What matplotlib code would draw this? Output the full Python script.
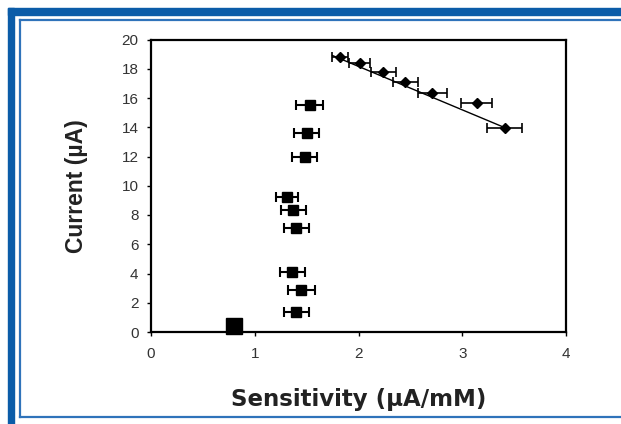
import numpy as np
import matplotlib
matplotlib.use("Agg")
import matplotlib.pyplot as plt
from matplotlib.patches import Rectangle
from matplotlib.lines import Line2D

# data
low_sens = [1.53, 1.50, 1.48, 1.31, 1.37, 1.40, 1.36, 1.45, 1.40]
low_curr = [15.5, 13.6, 12.0, 9.25, 8.35, 7.1, 4.1, 2.9, 1.4]
low_err = [0.13, 0.12, 0.12, 0.11, 0.12, 0.12, 0.12, 0.13, 0.12]

high_sens = [1.82, 2.01, 2.24, 2.45, 2.71, 3.14, 3.41]
high_curr = [18.8, 18.4, 17.8, 17.1, 16.35, 15.65, 13.95]
high_err = [0.08, 0.10, 0.12, 0.12, 0.14, 0.15, 0.17]

zero_sens = [0.80]
zero_curr = [0.4]

# linear fit drawn through the high series
fit_slope = -2.97
fit_intercept = 24.10
fit_range = [1.75, 3.38]

plt.rcParams['font.family'] = ['Liberation Sans', 'DejaVu Sans']

fig = plt.figure(figsize=(6.21, 4.24), dpi=100)
W, H = 621, 424

# blue frame around the figure
blue = '#0b5ca8'
fig.patches.append(Rectangle((8 / W, 1 - 15 / H), 1, 7 / H, transform=fig.transFigure,
                             color=blue, zorder=0))
fig.patches.append(Rectangle((8 / W, 0), 6 / W, 1 - 8 / H, transform=fig.transFigure,
                             color=blue, zorder=0))
thin = '#2f73ba'
fig.lines.append(Line2D([20 / W, 20 / W], [1 - 20 / H, 1 - 417 / H], transform=fig.transFigure,
                        color=thin, lw=1.6))
fig.lines.append(Line2D([20 / W, 1], [1 - 20 / H, 1 - 20 / H], transform=fig.transFigure,
                        color=thin, lw=1.6))
fig.lines.append(Line2D([20 / W, 1], [1 - 417 / H, 1 - 417 / H], transform=fig.transFigure,
                        color=thin, lw=1.6))

ax = fig.add_axes([151 / W, 1 - 332 / H, 415 / W, 292.5 / H])

ax.errorbar(low_sens, low_curr, xerr=low_err, fmt='s', color='black', ms=7.5,
            capsize=3.5, elinewidth=1.5, capthick=1.5)
ax.errorbar(high_sens, high_curr, xerr=high_err, fmt='D', color='black', ms=5,
            capsize=3.5, elinewidth=1.2, capthick=1.2)
ax.plot(zero_sens, zero_curr, 's', color='black', ms=11, clip_on=False, zorder=5)

xf = np.array(fit_range)
ax.plot(xf, fit_slope * xf + fit_intercept, color='black', lw=1)

ax.set_xlim(0, 4)
ax.set_ylim(0, 20)
ax.set_xticks(range(0, 5))
ax.set_yticks(range(0, 21, 2))
ax.tick_params(labelsize=11, labelcolor='#333333', length=3, width=1, pad=6)
ax.tick_params(axis='x', pad=8)
for s in ax.spines.values():
    s.set_linewidth(1.6)

ax.set_xlabel('Sensitivity (\u00b5A/mM)', fontsize=16.5, fontweight='bold', color='#222222',
              family=['DejaVu Sans'], labelpad=19)
ax.set_ylabel('Current (\u00b5A)', fontsize=16.5, fontweight='bold', color='#222222',
              labelpad=24)

fig.savefig('out.png', dpi=100)
